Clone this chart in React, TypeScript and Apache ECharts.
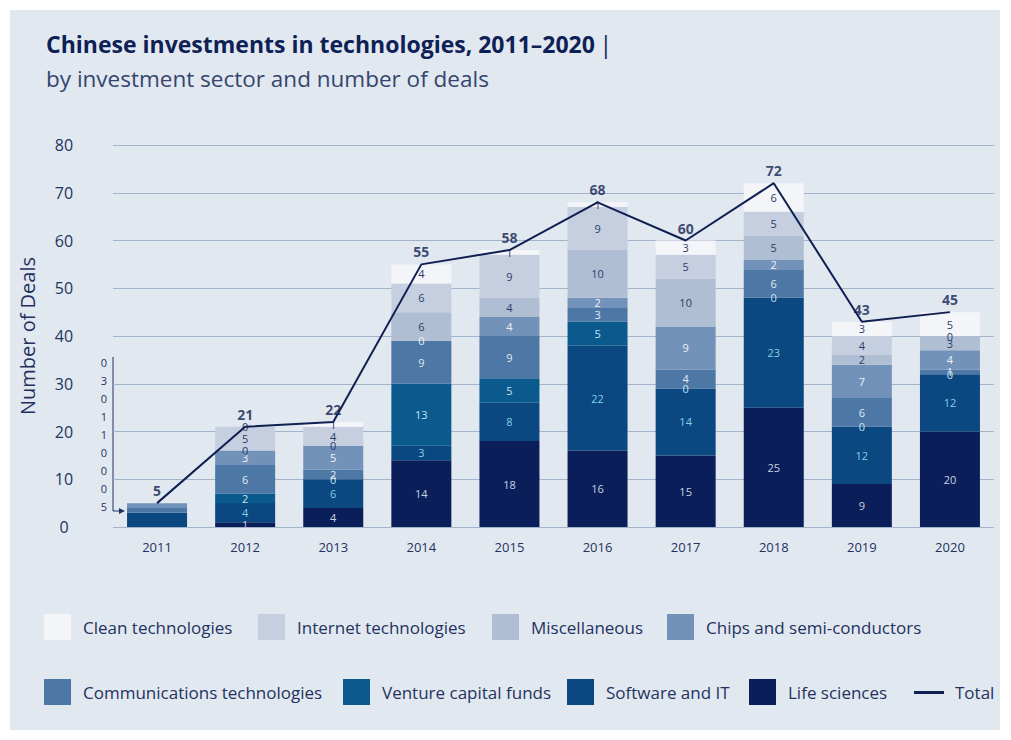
import React, { useEffect, useRef } from 'react';
import * as echarts from 'echarts';

const years = ['2011', '2012', '2013', '2014', '2015', '2016', '2017', '2018', '2019', '2020'];
const lifeSciences = [0, 1, 4, 14, 18, 16, 15, 25, 9, 20];
const softwareIT = [3, 4, 6, 3, 8, 22, 14, 23, 12, 12];
const ventureCapital = [0, 2, 0, 13, 5, 5, 0, 0, 0, 0];
const communications = [1, 6, 2, 9, 9, 3, 4, 6, 6, 1];
const chips = [1, 3, 5, 0, 4, 2, 9, 2, 7, 4];
const miscellaneous = [0, 0, 0, 6, 4, 10, 10, 5, 2, 3];
const internet = [0, 5, 4, 6, 9, 9, 5, 5, 4, 0];
const clean = [0, 0, 1, 4, 1, 1, 3, 6, 3, 5];
const totals = [5, 21, 22, 55, 58, 68, 60, 72, 43, 45];
const yTicks = { min: 0, max: 80, interval: 10 };
// callout for 2011, top to bottom as printed
const callout2011 = ['0', '3', '0', '1', '1', '0', '0', '0', '5'];

const FONT = 'Open Sans';
const NAVY = '#0e2157';
const TEXT = '#22335f';

const stackDefs = [
  { name: 'Life sciences', data: lifeSciences, color: '#0a1f5a', label: '#c9d3e3' },
  { name: 'Software and IT', data: softwareIT, color: '#0b4780', label: '#7fd3e3' },
  { name: 'Venture capital funds', data: ventureCapital, color: '#0b5a8d', label: '#c8e2ee' },
  { name: 'Communications technologies', data: communications, color: '#4d77a5', label: '#e2e9f2' },
  { name: 'Chips and semi-conductors', data: chips, color: '#7292b9', label: '#eef2f7' },
  { name: 'Miscellaneous', data: miscellaneous, color: '#b0bed3', label: '#2b3d6b' },
  { name: 'Internet technologies', data: internet, color: '#c6cfe0', label: '#2b3d6b' },
  { name: 'Clean technologies', data: clean, color: '#f3f5f9', label: '#2b3d6b' },
];

// legend layout: [name, swatch left, row]
const legendPlacement: [string, number, number][] = [
  ['Clean technologies', 44, 0],
  ['Internet technologies', 258, 0],
  ['Miscellaneous', 492, 0],
  ['Chips and semi-conductors', 667, 0],
  ['Communications technologies', 44, 1],
  ['Venture capital funds', 343, 1],
  ['Software and IT', 567, 1],
  ['Life sciences', 749, 1],
];

export default function App() {
  const ref = useRef<HTMLDivElement>(null);
  useEffect(() => {
    const chart = echarts.init(ref.current!, null, { renderer: 'svg' });
    const barSeries = stackDefs.map((s) => ({
      name: s.name,
      type: 'bar',
      stack: 'deals',
      barWidth: 60,
      itemStyle: { color: s.color },
      label: {
        show: true,
        position: 'inside',
        fontSize: 11,
        fontFamily: FONT,
        color: s.label,
      },
      emphasis: { disabled: true },
      data: s.data.map((v, i) => (i === 0 ? { value: v, label: { show: false } } : v)),
      z: 2,
    }));
    const calloutGraphics: any[] = callout2011.map((t, i) => ({
      type: 'text',
      x: 104,
      y: 362 + i * 18.1,
      style: { text: t, fill: TEXT, font: `11px "${FONT}"`, textAlign: 'center', textVerticalAlign: 'middle' },
    }));
    calloutGraphics.push(
      { type: 'polyline', shape: { points: [[113, 357], [113, 511], [120, 511]] }, style: { stroke: TEXT, lineWidth: 1, fill: 'none' } },
      { type: 'polygon', shape: { points: [[119, 508], [125, 511], [119, 514]] }, style: { fill: TEXT } }
    );
    const legendText = { fontFamily: FONT, fontSize: 17, color: TEXT, padding: [0, 0, 0, 7] };
    const legends: any[] = legendPlacement.map(([name, x, row]) => ({
      left: x - 5,
      top: row === 0 ? 609 : 674,
      itemWidth: 27,
      itemHeight: 26,
      icon: 'rect',
      selectedMode: false,
      textStyle: legendText,
      data: [name],
    }));
    legends.push({
      left: 909,
      top: 679,
      itemWidth: 30,
      itemHeight: 3,
      icon: 'rect',
      selectedMode: false,
      itemStyle: { color: '#0f1f52' },
      textStyle: { ...legendText, padding: [0, 0, 0, 6] },
      data: ['Total'],
    });
    const option: any = {
      animation: false,
      backgroundColor: 'transparent',
      textStyle: { fontFamily: FONT },
      title: [
        {
          left: 41,
          top: 27,
          text: '{a|Chinese investments in technologies, 2011–2020} {b||}',
          textStyle: {
            rich: {
              a: { fontFamily: FONT, fontSize: 23, fontWeight: 'bold', color: NAVY },
              b: { fontFamily: FONT, fontSize: 23, fontWeight: 'normal', color: NAVY },
            },
          },
        },
        {
          left: 41,
          top: 62,
          text: 'by investment sector and number of deals',
          textStyle: { fontFamily: FONT, fontSize: 22.5, fontWeight: 'normal', color: '#34466e' },
        },
      ],
      legend: legends,
      grid: { left: 113, right: 17, top: 145, bottom: 213 },
      xAxis: {
        type: 'category',
        data: years,
        axisLine: { show: false },
        axisTick: { show: false },
        axisLabel: { fontFamily: FONT, fontSize: 13, color: TEXT, margin: 13 },
      },
      yAxis: {
        type: 'value',
        min: yTicks.min,
        max: yTicks.max,
        interval: yTicks.interval,
        name: 'Number of Deals',
        nameLocation: 'middle',
        nameGap: 76,
        nameTextStyle: { fontFamily: FONT, fontSize: 20, color: '#1f3060' },
        axisLine: { show: false },
        axisTick: { show: false },
        axisLabel: { fontFamily: FONT, fontSize: 16, color: TEXT, margin: 49, align: 'center' },
        splitLine: { lineStyle: { color: '#a3b3c9', width: 1 } },
      },
      series: [
        ...barSeries,
        {
          name: 'Total',
          type: 'line',
          data: totals,
          symbol: 'none',
          z: 5,
          lineStyle: { color: '#0f1f52', width: 2 },
          itemStyle: { color: '#0f1f52' },
          emphasis: { disabled: true },
        },
        {
          name: 'Total labels',
          type: 'scatter',
          data: totals,
          symbolSize: 1,
          z: 6,
          itemStyle: { color: 'rgba(0,0,0,0)' },
          label: {
            show: true,
            position: 'top',
            distance: 5,
            fontFamily: FONT,
            fontSize: 14,
            fontWeight: 'bold',
            color: '#0f1f52',
          },
          emphasis: { disabled: true },
        },
      ],
      graphic: calloutGraphics,
    };
    chart.setOption(option);
    return () => chart.dispose();
  }, []);
  return (
    <div style={{ position: 'fixed', left: 0, top: 0, width: 1011, height: 740, background: '#ffffff' }}>
      <div style={{ position: 'absolute', left: 10, top: 10, width: 990, height: 720, background: '#e2e8f0' }} />
      <div ref={ref} style={{ position: 'absolute', left: 0, top: 0, width: 1011, height: 740 }} />
    </div>
  );
}
